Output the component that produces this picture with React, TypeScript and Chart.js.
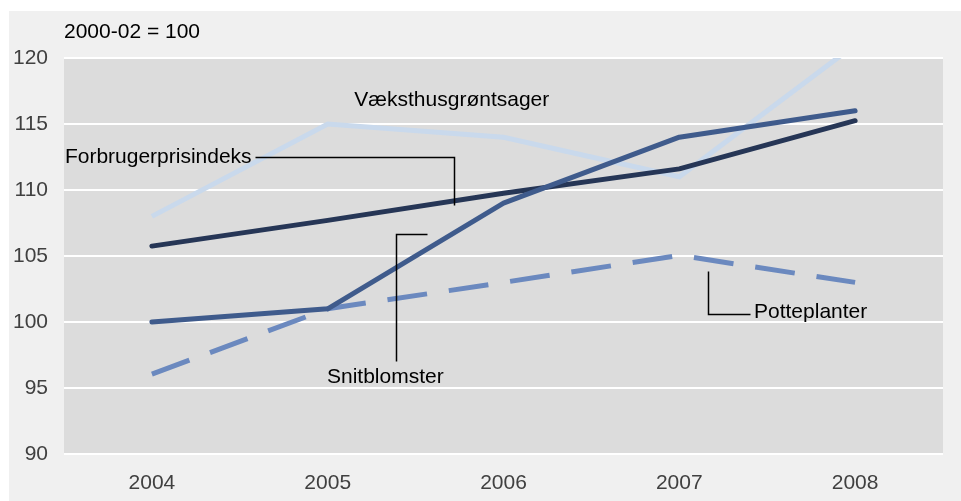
import React, { useEffect, useRef } from "react";
import { Chart, registerables } from "chart.js";

Chart.register(...registerables);

const categories = ["2004", "2005", "2006", "2007", "2008"];
const forbrugerprisindeks = [105.75, 107.7, 109.75, 111.6, 115.25];
const snitblomster = [100, 101, 109, 114, 116];
const vaeksthusgroentsager = [108, 115, 114, 111, 121];
const potteplanter = [96.05, 101, 103, 105.05, 103];
const yTicks = [90, 95, 100, 105, 110, 115, 120];
const baseLabel = "2000-02 = 100";

// Annotations in data space: x = category index (fractional), y = value
const textLabels = [
  { text: "Forbrugerprisindeks", x: -0.495, y: 112.52, align: "left" },
  { text: "Væksthusgrøntsager", x: 1.706, y: 116.77, align: "center" },
  { text: "Snitblomster", x: 1.328, y: 95.83, align: "center" },
  { text: "Potteplanter", x: 3.425, y: 100.76, align: "left" },
];
const leaderLines = [
  [[0.586, 112.52], [1.718, 112.52], [1.718, 108.86]],
  [[1.564, 106.69], [1.388, 106.69], [1.388, 97.05]],
  [[3.163, 103.89], [3.163, 100.61], [3.402, 100.61]],
];

const FONT = "'Liberation Sans', Arial, sans-serif";

const bgPlugin = {
  id: "bgPlugin",
  beforeDraw(chart: any) {
    const { ctx, chartArea: a } = chart;
    ctx.save();
    ctx.fillStyle = "#ffffff";
    ctx.fillRect(0, 0, chart.width, chart.height);
    ctx.fillStyle = "#f0f0f0";
    ctx.fillRect(9, 11, chart.width - 9, chart.height - 11);
    ctx.fillStyle = "#dcdcdc";
    ctx.fillRect(a.left, a.top, a.right - a.left, a.bottom - a.top);
    ctx.restore();
  },
};

const annotPlugin = {
  id: "annotPlugin",
  afterDatasetsDraw(chart: any) {
    const { ctx, chartArea: a } = chart;
    const xs = chart.scales.x;
    const ys = chart.scales.y;
    const px = (i: number) => xs.getPixelForValue(0) + i * (xs.getPixelForValue(1) - xs.getPixelForValue(0));
    ctx.save();
    ctx.strokeStyle = "#000000";
    ctx.lineWidth = 1.5;
    for (const line of leaderLines) {
      ctx.beginPath();
      line.forEach((p, k) => {
        const X = Math.round(px(p[0])) + 0.5;
        const Y = Math.round(ys.getPixelForValue(p[1])) + 0.5;
        if (k === 0) ctx.moveTo(X, Y);
        else ctx.lineTo(X, Y);
      });
      ctx.stroke();
    }
    ctx.fillStyle = "#000000";
    ctx.font = `21px ${FONT}`;
    ctx.textBaseline = "middle";
    for (const t of textLabels) {
      ctx.textAlign = t.align as CanvasTextAlign;
      ctx.fillText(t.text, px(t.x), ys.getPixelForValue(t.y));
    }
    ctx.textAlign = "left";
    ctx.fillText(baseLabel, a.left, a.top - 26);
    ctx.restore();
  },
};

export default function App() {
  const ref = useRef<HTMLCanvasElement>(null);
  useEffect(() => {
    if (!ref.current) return;
    const chart = new Chart(ref.current, {
      type: "line",
      data: {
        labels: categories,
        datasets: [
          {
            label: "Snitblomster",
            data: snitblomster,
            borderColor: "#3f5b8c",
            borderWidth: 5,
            borderCapStyle: "round",
            borderJoinStyle: "round",
            pointRadius: 0,
            tension: 0,
            clip: 0,
          },
          {
            label: "Forbrugerprisindeks",
            data: forbrugerprisindeks,
            borderColor: "#263656",
            borderWidth: 5,
            borderCapStyle: "round",
            borderJoinStyle: "round",
            pointRadius: 0,
            tension: 0,
            clip: 0,
          },
          {
            label: "Potteplanter",
            data: potteplanter,
            borderColor: "#6b89bf",
            borderWidth: 5,
            borderDash: [40, 22],
            borderCapStyle: "butt",
            pointRadius: 0,
            tension: 0,
            clip: 0,
          },
          {
            label: "Væksthusgrøntsager",
            data: vaeksthusgroentsager,
            borderColor: "#c9d9ec",
            borderWidth: 5,
            borderCapStyle: "butt",
            pointRadius: 0,
            tension: 0,
            clip: 0,
          },
        ],
      },
      options: {
        animation: false,
        responsive: false,
        maintainAspectRatio: false,
        layout: { padding: { left: 0, right: 18, top: 58, bottom: 0 } },
        plugins: { legend: { display: false }, tooltip: { enabled: false }, title: { display: false } },
        scales: {
          x: {
            offset: true,
            grid: { display: false, drawTicks: false },
            border: { display: false },
            ticks: { color: "#404040", font: { family: FONT, size: 21 }, padding: 17, maxRotation: 0 },
            afterFit(s: any) {
              s.height = 47;
            },
          },
          y: {
            min: 90,
            max: 120,
            afterBuildTicks(s: any) {
              s.ticks = yTicks.map((v) => ({ value: v }));
            },
            grid: { color: "#ffffff", lineWidth: 2, drawTicks: false },
            border: { display: false },
            ticks: { color: "#404040", font: { family: FONT, size: 21 }, padding: 16 },
            afterFit(s: any) {
              s.width = 64;
            },
          },
        },
      },
      plugins: [bgPlugin, annotPlugin],
    });
    return () => chart.destroy();
  }, []);
  return (
    <div style={{ position: "fixed", left: 0, top: 0, width: 961, height: 501 }}>
      <canvas ref={ref} width={961} height={501} style={{ width: 961, height: 501, display: "block" }} />
    </div>
  );
}
